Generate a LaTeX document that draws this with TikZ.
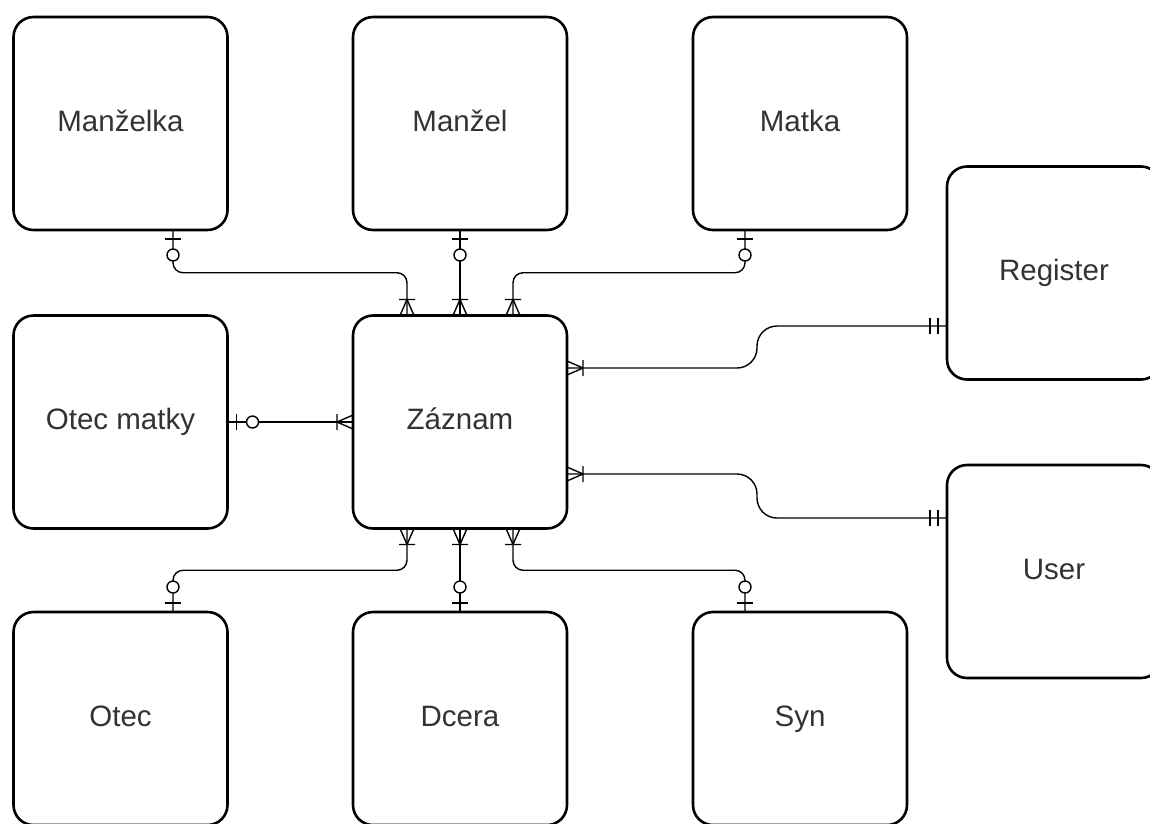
\documentclass[tikz,border=0pt]{standalone}
\usepackage{fontspec}
\setmainfont{Liberation Sans}
\usetikzlibrary{calc,decorations.markings}
\definecolor{labeltext}{RGB}{51,51,51}
\begin{document}
\begin{tikzpicture}[x=1pt,y=-1pt,
  entity/.style={draw=black, line width=2.6pt, rounded corners=20pt, fill=white,
    minimum width=214pt, minimum height=213pt, inner sep=0pt, outer sep=0pt,
    text height=21pt, text depth=6pt,
    text=labeltext, font=\fontsize{29.5}{34}\selectfont},
  rel/.style={draw=black, line width=1.4pt},
  % zero or one: bar next to the entity, open circle further out
  zeroone start/.style={postaction={decorate, decoration={markings,
    mark=at position 9pt with {\draw[line width=1.4pt] (0,-8pt) -- (0,8pt);},
    mark=at position 25pt with {\draw[line width=1.4pt, fill=white] (0,0) circle (6pt);}}}},
  % one or many: bar plus crow's foot at the path end
  many end/.style={postaction={decorate, decoration={markings,
    mark=at position -16pt with {\draw[line width=1.4pt, rounded corners=0pt]
      (0,-8pt) -- (0,8pt) (0,0) -- (16pt,7pt) (0,0) -- (16pt,-7pt);}}}},
  many start/.style={postaction={decorate, decoration={markings,
    mark=at position 16pt with {\draw[line width=1.4pt, rounded corners=0pt]
      (0,-8pt) -- (0,8pt) (0,0) -- (-16pt,7pt) (0,0) -- (-16pt,-7pt);}}}},
  % exactly one: double bar at the path end
  mandone end/.style={postaction={decorate, decoration={markings,
    mark=at position -17pt with {\draw[line width=1.4pt] (0,-8pt) -- (0,8pt);},
    mark=at position -9pt with {\draw[line width=1.4pt] (0,-8pt) -- (0,8pt);}}}}
]
\useasboundingbox (0,0) rectangle (1150,823);
\clip (0,0) rectangle (1150,823);

% entities
\node[entity] (manzelka)  at (120.5,123.5) {Manželka};
\node[entity] (manzel)    at (460,123.5)   {Manžel};
\node[entity] (matka)     at (800,123.5)   {Matka};
\node[entity] (register)  at (1054,273)    {Register};
\node[entity] (otecmatky) at (120.5,422)   {Otec matky};
\node[entity] (zaznam)    at (460,422)     {Záznam};
\node[entity] (user)      at (1054,571.5)  {User};
\node[entity] (otec)      at (120.5,718.5) {Otec};
\node[entity] (dcera)     at (460,718.5)   {Dcera};
\node[entity] (syn)       at (800,718.5)   {Syn};

% connector end points
\coordinate (mzA) at ($(manzelka.south)+(52.5,0)$);
\coordinate (mzB) at ($(zaznam.north)+(-53,0)$);
\coordinate (maA) at ($(matka.south)+(-55,0)$);
\coordinate (maB) at ($(zaznam.north)+(53,0)$);
\coordinate (otA) at ($(otec.north)+(52.5,0)$);
\coordinate (otB) at ($(zaznam.south)+(-53,0)$);
\coordinate (syA) at ($(syn.north)+(-55,0)$);
\coordinate (syB) at ($(zaznam.south)+(53,0)$);
\coordinate (rgA) at ($(zaznam.east)+(0,-54)$);
\coordinate (rgB) at ($(register.west)+(0,53)$);
\coordinate (usA) at ($(zaznam.east)+(0,52)$);
\coordinate (usB) at ($(user.west)+(0,-53.5)$);
% bend lines half way between the ends
\coordinate (mzM) at ($(mzA)!.5!(mzB)$);
\coordinate (maM) at ($(maA)!.5!(maB)$);
\coordinate (otM) at ($(otA)!.5!(otB)$);
\coordinate (syM) at ($(syA)!.5!(syB)$);
\coordinate (rgM) at ($(rgA)!.5!(rgB)$);
\coordinate (usM) at ($(usA)!.5!(usB)$);

% family relations
\draw[rel, rounded corners=10pt, zeroone start, many end]
  (mzA) -- (mzA |- mzM) -- (mzB |- mzM) -- (mzB);
\draw[rel, zeroone start, many end] (manzel.south) -- (zaznam.north);
\draw[rel, rounded corners=10pt, zeroone start, many end]
  (maA) -- (maA |- maM) -- (maB |- maM) -- (maB);
\draw[rel, zeroone start, many end] (otecmatky.east) -- (zaznam.west);
\draw[rel, rounded corners=10pt, zeroone start, many end]
  (otA) -- (otA |- otM) -- (otB |- otM) -- (otB);
\draw[rel, zeroone start, many end] (dcera.north) -- (zaznam.south);
\draw[rel, rounded corners=10pt, zeroone start, many end]
  (syA) -- (syA |- syM) -- (syB |- syM) -- (syB);

% register and user
\draw[rel, rounded corners=20pt, many start, mandone end]
  (rgA) -- (rgM |- rgA) -- (rgM |- rgB) -- (rgB);
\draw[rel, rounded corners=20pt, many start, mandone end]
  (usA) -- (usM |- usA) -- (usM |- usB) -- (usB);
\end{tikzpicture}
\end{document}
